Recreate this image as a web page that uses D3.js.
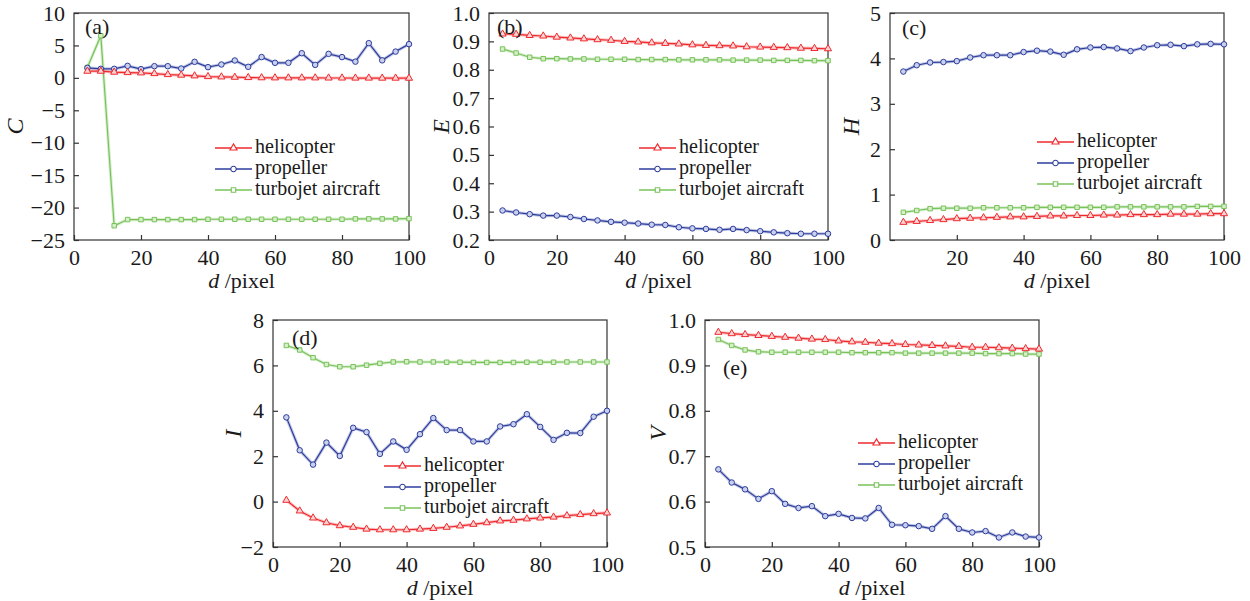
<!DOCTYPE html>
<html>
<head>
<meta charset="utf-8">
<script src="https://cdn.jsdelivr.net/npm/d3@7/dist/d3.min.js"></script>
<style>
  body { margin: 0; background: #fff; }
  svg { display: block; }
  text { font-family: "Liberation Serif", "Times New Roman", Times, "DejaVu Serif", serif; fill: #1a1a1a; }
</style>
</head>
<body>
<svg width="1250" height="601"></svg>
<script>
const svg = d3.select("svg");

const dValues = [4, 8, 12, 16, 20, 24, 28, 32, 36, 40, 44, 48, 52, 56, 60, 64, 68, 72, 76, 80, 84, 88, 92, 96, 100];
const seriesNames = ["helicopter", "propeller", "turbojet aircraft"];

const cHeli = [1.03, 1.03, 0.88, 0.82, 0.77, 0.66, 0.51, 0.42, 0.31, 0.2, 0.15, 0.1, 0.05, 0.02, 0.0, 0.0, 0.0, 0.0, -0.02, -0.02, -0.03, -0.03, -0.04, -0.04, -0.05];
const cProp = [1.54, 1.39, 1.39, 1.85, 1.34, 1.8, 1.8, 1.44, 2.47, 1.65, 2.06, 2.68, 1.7, 3.2, 2.32, 2.32, 3.8, 2.0, 3.7, 3.2, 2.5, 5.35, 2.7, 4.05, 5.2];
const cTurbo = [1.6, 6.5, -22.8, -21.85, -21.85, -21.85, -21.85, -21.85, -21.85, -21.8, -21.8, -21.8, -21.8, -21.8, -21.8, -21.8, -21.8, -21.8, -21.8, -21.8, -21.75, -21.75, -21.75, -21.75, -21.7];

const eHeli = [0.926, 0.925, 0.921, 0.919, 0.915, 0.912, 0.909, 0.906, 0.904, 0.900, 0.898, 0.895, 0.893, 0.891, 0.888, 0.886, 0.885, 0.884, 0.881, 0.880, 0.879, 0.878, 0.876, 0.875, 0.874];
const eProp = [0.304, 0.297, 0.291, 0.286, 0.286, 0.281, 0.274, 0.269, 0.264, 0.261, 0.258, 0.254, 0.253, 0.245, 0.241, 0.239, 0.236, 0.239, 0.235, 0.231, 0.227, 0.224, 0.222, 0.222, 0.222];
const eTurbo = [0.873, 0.859, 0.844, 0.839, 0.839, 0.838, 0.838, 0.837, 0.837, 0.837, 0.836, 0.836, 0.836, 0.835, 0.835, 0.835, 0.835, 0.834, 0.834, 0.834, 0.833, 0.833, 0.833, 0.832, 0.832];

const hHeli = [0.39, 0.41, 0.43, 0.45, 0.47, 0.48, 0.49, 0.50, 0.51, 0.51, 0.52, 0.53, 0.53, 0.54, 0.54, 0.55, 0.55, 0.56, 0.56, 0.56, 0.57, 0.57, 0.57, 0.58, 0.58];
const hProp = [3.71, 3.85, 3.91, 3.92, 3.94, 4.02, 4.07, 4.07, 4.07, 4.14, 4.17, 4.15, 4.08, 4.20, 4.24, 4.25, 4.22, 4.16, 4.24, 4.29, 4.30, 4.27, 4.31, 4.32, 4.31];
const hTurbo = [0.61, 0.65, 0.69, 0.70, 0.70, 0.70, 0.71, 0.71, 0.71, 0.71, 0.72, 0.72, 0.72, 0.72, 0.72, 0.72, 0.73, 0.73, 0.73, 0.73, 0.73, 0.73, 0.74, 0.74, 0.74];

const iHeli = [0.06, -0.41, -0.72, -0.93, -1.06, -1.13, -1.21, -1.24, -1.24, -1.24, -1.21, -1.18, -1.13, -1.07, -1.0, -0.93, -0.85, -0.82, -0.76, -0.72, -0.68, -0.62, -0.57, -0.53, -0.5];
const iProp = [3.71, 2.26, 1.63, 2.6, 2.01, 3.25, 3.06, 2.1, 2.65, 2.28, 2.97, 3.68, 3.15, 3.15, 2.65, 2.65, 3.31, 3.41, 3.85, 3.29, 2.72, 3.03, 3.02, 3.74, 4.0];
const iTurbo = [6.88, 6.68, 6.34, 6.04, 5.94, 5.94, 6.01, 6.09, 6.15, 6.16, 6.15, 6.15, 6.14, 6.14, 6.13, 6.13, 6.13, 6.13, 6.14, 6.14, 6.14, 6.15, 6.15, 6.15, 6.15];

const vHeli = [0.973, 0.970, 0.968, 0.966, 0.964, 0.962, 0.960, 0.958, 0.957, 0.954, 0.952, 0.951, 0.949, 0.948, 0.946, 0.945, 0.944, 0.943, 0.942, 0.940, 0.940, 0.939, 0.938, 0.937, 0.936];
const vProp = [0.671, 0.642, 0.627, 0.606, 0.623, 0.595, 0.586, 0.590, 0.568, 0.573, 0.564, 0.563, 0.586, 0.549, 0.548, 0.546, 0.540, 0.568, 0.540, 0.532, 0.535, 0.521, 0.532, 0.523, 0.521];
const vTurbo = [0.957, 0.944, 0.934, 0.930, 0.929, 0.929, 0.929, 0.929, 0.929, 0.929, 0.928, 0.928, 0.928, 0.928, 0.927, 0.927, 0.927, 0.927, 0.927, 0.927, 0.926, 0.926, 0.926, 0.925, 0.925];

const colors = ["#ee2a2e", "#2c3c9c", "#78c25a"];
const markerFill = ["#fbd3d3", "#c9d0ee", "#d6efc9"];
const shapes = [d3.symbolTriangle, d3.symbolCircle, d3.symbolSquare];
const shapeSizes = [22, 24, 20];

const panels = [
  { tag: "(a)", title: "C", series: [cHeli, cProp, cTurbo], yDomain: [-25, 10], yTicks: [-25, -20, -15, -10, -5, 0, 5, 10], fmt: d3.format("d"),
    box: [74, 409, 13, 240], tagPos: [85, 34], titleX: 17, legend: [215, 148], showX0: true },
  { tag: "(b)", title: "E", series: [eHeli, eProp, eTurbo], yDomain: [0.2, 1.0], yTicks: [0.2, 0.3, 0.4, 0.5, 0.6, 0.7, 0.8, 0.9, 1.0], fmt: d3.format(".1f"),
    box: [489, 828, 13, 240], tagPos: [497, 34], titleX: 443, legend: [639, 148], showX0: true },
  { tag: "(c)", title: "H", series: [hHeli, hProp, hTurbo], yDomain: [0, 5], yTicks: [0, 1, 2, 3, 4, 5], fmt: d3.format("d"),
    box: [890, 1224, 13, 240], tagPos: [902, 35], titleX: 853, legend: [1037, 142], showX0: false },
  { tag: "(d)", title: "I", series: [iHeli, iProp, iTurbo], yDomain: [-2, 8], yTicks: [-2, 0, 2, 4, 6, 8], fmt: d3.format("d"),
    box: [273, 607, 320, 547], tagPos: [292, 345], titleX: 235, legend: [384, 466], showX0: true },
  { tag: "(e)", title: "V", series: [vHeli, vProp, vTurbo], yDomain: [0.5, 1.0], yTicks: [0.5, 0.6, 0.7, 0.8, 0.9, 1.0], fmt: d3.format(".1f"),
    box: [705, 1039, 320, 547], tagPos: [723, 375], titleX: 660, legend: [858, 443], showX0: true }
];

const drawPanel = (panel) => {
  const [left, right, top, bottom] = panel.box;
  const x = d3.scaleLinear().domain([0, 100]).range([left, right]);
  const y = d3.scaleLinear().domain(panel.yDomain).range([bottom, top]);
  const g = svg.append("g");

  const xAxis = d3.axisBottom(x)
    .tickValues(panel.showX0 ? [0, 20, 40, 60, 80, 100] : [20, 40, 60, 80, 100])
    .tickSizeInner(-5).tickSizeOuter(0).tickPadding(9);
  const yAxis = d3.axisLeft(y)
    .tickValues(panel.yTicks).tickFormat(panel.fmt)
    .tickSizeInner(-5).tickSizeOuter(0).tickPadding(9);

  const xg = g.append("g").attr("transform", `translate(0,${bottom})`).call(xAxis);
  const yg = g.append("g").attr("transform", `translate(${left},0)`).call(yAxis);
  [xg, yg].forEach((ag) => {
    ag.attr("font-family", null);
    ag.select(".domain").remove();
    ag.selectAll("line").attr("stroke", "#333").attr("stroke-width", 1.2);
    ag.selectAll("text").attr("font-size", 22).attr("fill", "#1a1a1a");
  });

  g.append("rect")
    .attr("x", left).attr("y", top)
    .attr("width", right - left).attr("height", bottom - top)
    .attr("fill", "none").attr("stroke", "#333").attr("stroke-width", 1.2);

  const line = d3.line().x((v, i) => x(dValues[i])).y((v) => y(v));

  // turbojet first so red/blue sit on top like the original
  [2, 1, 0].forEach((si) => {
    const vals = panel.series[si];
    g.append("path").attr("d", line(vals))
      .attr("fill", "none").attr("stroke", colors[si]).attr("stroke-opacity", 0.28).attr("stroke-width", 3.2);
    g.append("path").attr("d", line(vals))
      .attr("fill", "none").attr("stroke", colors[si]).attr("stroke-width", 1.2);
    g.selectAll(null).data(vals).enter().append("path")
      .attr("transform", (v, i) => `translate(${x(dValues[i])},${y(v)})`)
      .attr("d", d3.symbol().type(shapes[si]).size(shapeSizes[si]))
      .attr("fill", markerFill[si]).attr("stroke", colors[si]).attr("stroke-width", 1);
  });

  g.append("text")
    .attr("x", panel.tagPos[0]).attr("y", panel.tagPos[1])
    .attr("font-size", 22).text(panel.tag);

  g.append("text")
    .attr("transform", `translate(${panel.titleX},${(top + bottom) / 2}) rotate(-90)`)
    .attr("text-anchor", "middle").attr("dominant-baseline", "middle")
    .attr("font-size", 24).attr("font-style", "italic").text(panel.title);

  const xTitle = g.append("text")
    .attr("x", (left + right) / 2).attr("y", bottom + 48)
    .attr("text-anchor", "middle").attr("font-size", 22);
  xTitle.append("tspan").attr("font-style", "italic").text("d");
  xTitle.append("tspan").text(" /pixel");

  const [lx, ly] = panel.legend;
  seriesNames.forEach((name, si) => {
    const rowY = ly + si * 21;
    g.append("line")
      .attr("x1", lx).attr("x2", lx + 37).attr("y1", rowY).attr("y2", rowY)
      .attr("stroke", colors[si]).attr("stroke-width", 1.3);
    g.append("path")
      .attr("transform", `translate(${lx + 18.5},${rowY})`)
      .attr("d", d3.symbol().type(shapes[si]).size(shapeSizes[si]))
      .attr("fill", "#fff").attr("stroke", colors[si]).attr("stroke-width", 1.1);
    g.append("text")
      .attr("x", lx + 40).attr("y", rowY)
      .attr("dominant-baseline", "middle")
      .attr("font-size", 20).text(name);
  });
};

panels.forEach(drawPanel);
</script>
</body>
</html>
